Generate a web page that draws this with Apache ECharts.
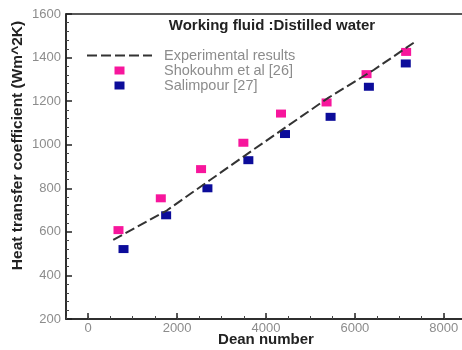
<!DOCTYPE html>
<html>
<head>
<meta charset="utf-8">
<script src="https://cdn.jsdelivr.net/npm/echarts@6/dist/echarts.min.js"></script>
<style>
  html, body { margin: 0; padding: 0; background: #fff; }
  #chart { width: 462px; height: 350px; }
</style>
</head>
<body>
<div id="chart"></div>
<script>
// Heat transfer coefficient vs Dean number, distilled water
const xTickLabels = [0, 2000, 4000, 6000, 8000];

const experimentalDean = [563, 1767, 2742, 3700, 5400, 6422, 7323];
const experimentalH    = [563, 698, 838, 975, 1215, 1343, 1468];

const shokouhmDean = [681, 1633, 2539, 3491, 4337, 5363, 6262, 7153];
const shokouhmH    = [608, 754, 888, 1009, 1143, 1194, 1324, 1426];

const salimpourDean = [794, 1753, 2682, 3603, 4427, 5453, 6315, 7145];
const salimpourH    = [521, 676, 800, 929, 1049, 1128, 1266, 1373];

const pairs = (xs, ys) => xs.map((x, i) => [x, ys[i]]);

const labelColor = '#8c8c8c';
const axisColor = '#222';
const font = 'Liberation Sans, Arial, sans-serif';
// small filled square used as legend marker
const squareIcon = 'path://M0,0h10v8h-10z';

const chart = echarts.init(document.getElementById('chart'), null, { renderer: 'canvas' });

chart.setOption({
  animation: false,
  backgroundColor: '#fff',
  title: {
    text: 'Working fluid :Distilled water',
    left: 267,
    top: 13,
    textAlign: 'center',
    textStyle: { fontFamily: font, fontSize: 15, fontWeight: 'bold', color: '#222' }
  },
  legend: {
    orient: 'vertical',
    left: 81,
    top: 43,
    itemWidth: 65,
    itemHeight: 8,
    itemGap: 0,
    symbolKeepAspect: true,
    data: [
      { name: 'Experimental results', itemStyle: { color: 'rgba(0,0,0,0)', borderWidth: 0 } },
      { name: 'Shokouhm et al [26]', icon: squareIcon },
      { name: 'Salimpour [27]', icon: squareIcon }
    ],
    textStyle: { fontFamily: font, fontSize: 14.5, color: labelColor, padding: [0, 0, 0, 7], lineHeight: 12 }
  },
  grid: {
    left: 66,
    top: 14,
    bottom: 31,
    right: -4,
    containLabel: false,
    outerBoundsMode: 'none',
    show: true,
    borderColor: axisColor,
    borderWidth: 1.5
  },
  xAxis: [
    {
      type: 'value',
      min: -500,
      max: 8500,
      name: 'Dean number',
      nameLocation: 'middle',
      nameGap: 13,
      nameMoveOverlap: false,
      nameTextStyle: { fontFamily: font, fontSize: 15, fontWeight: 'bold', color: '#222' },
      axisLine: { show: true, onZero: false, lineStyle: { color: axisColor, width: 1.5 } },
      axisTick: { show: true, inside: true, length: 6, customValues: xTickLabels, lineStyle: { color: axisColor, width: 1.5 } },
      axisLabel: { customValues: xTickLabels, formatter: v => String(v), fontFamily: font, fontSize: 13, color: labelColor, margin: 3 },
      splitLine: { show: false }
    },
    {
      type: 'value',
      min: -500,
      max: 8500,
      interval: 500,
      position: 'bottom',
      axisLine: { show: false },
      axisTick: { show: true, inside: true, length: 3, lineStyle: { color: '#444', width: 1 } },
      axisLabel: { show: false },
      splitLine: { show: false }
    }
  ],
  yAxis: {
    type: 'value',
    min: 200,
    max: 1600,
    interval: 200,
    name: 'Heat transfer coefficient (Wm^2K)',
    nameLocation: 'middle',
    nameGap: 40,
    nameMoveOverlap: false,
    nameTextStyle: { fontFamily: font, fontSize: 15.5, fontWeight: 'bold', color: '#222', padding: [0, 0, 0, 42] },
    axisLine: { show: true, onZero: false, lineStyle: { color: axisColor, width: 1.5 } },
    axisTick: { show: true, inside: true, length: 6, lineStyle: { color: axisColor, width: 1.5 } },
    minorTick: { show: true, splitNumber: 5, length: 3, lineStyle: { color: '#444', width: 1 } },
    axisLabel: { formatter: v => String(v), fontFamily: font, fontSize: 13, color: labelColor, margin: 5 },
    splitLine: { show: false }
  },
  series: [
    {
      name: 'Experimental results',
      type: 'line',
      xAxisIndex: 0,
      data: pairs(experimentalDean, experimentalH),
      symbol: 'none',
      lineStyle: { color: '#333', width: 2, type: [10, 4] },
      itemStyle: { color: '#333' }
    },
    {
      name: 'Shokouhm et al [26]',
      type: 'scatter',
      xAxisIndex: 0,
      data: pairs(shokouhmDean, shokouhmH),
      symbol: 'rect',
      symbolSize: [10, 8],
      itemStyle: { color: '#f7169c', opacity: 1 }
    },
    {
      name: 'Salimpour [27]',
      type: 'scatter',
      xAxisIndex: 0,
      data: pairs(salimpourDean, salimpourH),
      symbol: 'rect',
      symbolSize: [10, 8],
      itemStyle: { color: '#0c0c9a', opacity: 1 }
    }
  ]
});
</script>
</body>
</html>
